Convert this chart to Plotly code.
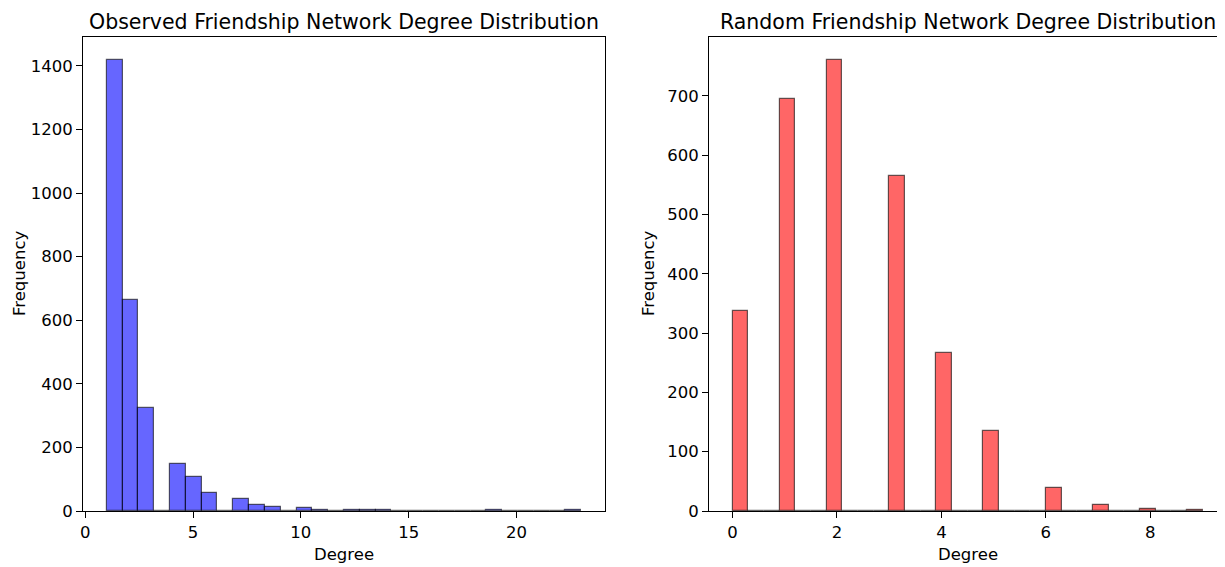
import numpy as np
import plotly.graph_objects as go

# Observed network: degree -> number of nodes
obs_degrees = [1, 2, 3, 4, 5, 6, 7, 8, 9, 10, 11, 12, 13, 14, 19, 23]
obs_counts = [1420, 663, 324, 147, 108, 57, 37, 18, 14, 9, 3, 2, 2, 2, 2, 2]

# Random network: degree -> number of nodes
rnd_degrees = [0, 1, 2, 3, 4, 5, 6, 7, 8, 9]
rnd_counts = [337, 695, 761, 564, 266, 135, 39, 10, 4, 1]

N_BINS = 30

obs_title = "Observed Friendship Network Degree Distribution"
rnd_title = "Random Friendship Network Degree Distribution"
x_label = "Degree"
y_label = "Frequency"

obs_xticks = [0, 5, 10, 15, 20]
obs_yticks = [0, 200, 400, 600, 800, 1000, 1200, 1400]
rnd_xticks = [0, 2, 4, 6, 8]
rnd_yticks = [0, 100, 200, 300, 400, 500, 600, 700]


def hist(degrees, counts):
    h, edges = np.histogram(degrees, bins=N_BINS, weights=counts)
    centers = (edges[:-1] + edges[1:]) / 2
    width = edges[1] - edges[0]
    return h, centers, width, edges


oh, oc, ow, oe = hist(obs_degrees, obs_counts)
rh, rc, rw, re_ = hist(rnd_degrees, rnd_counts)

FONT = "DejaVu Sans"
W, H = 1225, 567
OFF = 8  # page body margin

fig = go.Figure()
fig.add_trace(go.Bar(x=oc, y=oh, width=ow, xaxis="x", yaxis="y",
                     marker=dict(color="rgba(0,0,255,0.6)",
                                 line=dict(color="rgba(0,0,0,0.6)", width=1.2)),
                     showlegend=False))
fig.add_trace(go.Bar(x=rc, y=rh, width=rw, xaxis="x2", yaxis="y2",
                     marker=dict(color="rgba(255,0,0,0.6)",
                                 line=dict(color="rgba(0,0,0,0.6)", width=1.2)),
                     showlegend=False))

L0, L1 = 83 - OFF, 605 - OFF
R0, R1 = 709 - OFF, 1226 - OFF
T, B = 37 - OFF, 511 - OFF

left_dom = [L0 / W, L1 / W]
right_dom = [R0 / W, R1 / W]
y_dom = [1 - B / H, 1 - T / H]


def xr(edges):
    span = edges[-1] - edges[0]
    return [edges[0] - 0.05 * span, edges[-1] + 0.05 * span]


axis_common = dict(showline=True, linecolor="black", linewidth=1, mirror=True,
                   ticks="outside", ticklen=6, tickwidth=1, tickcolor="black",
                   showgrid=False, zeroline=False, automargin=False,
                   tickfont=dict(family=FONT, size=16.5, color="black"))

fig.update_layout(
    width=W, height=H,
    margin=dict(l=0, r=0, t=0, b=0, autoexpand=False),
    plot_bgcolor="white", paper_bgcolor="white",
    bargap=0,
    font=dict(family=FONT, color="black"),
    xaxis=dict(domain=left_dom, anchor="y", range=xr(oe), tickvals=obs_xticks, **axis_common),
    yaxis=dict(domain=y_dom, anchor="x", range=[0, 1.05 * max(oh)], tickvals=obs_yticks, **axis_common),
    xaxis2=dict(domain=right_dom, anchor="y2", range=xr(re_), tickvals=rnd_xticks, **axis_common),
    yaxis2=dict(domain=y_dom, anchor="x2", range=[0, 1.05 * max(rh)], tickvals=rnd_yticks, **axis_common),
)

ann = []
lc = (L0 + L1) / 2 / W
rcx = (R0 + R1) / 2 / W
title_y = 1 - 0.5 / H
xlab_y = 1 - (554 - OFF) / H
ymid = (y_dom[0] + y_dom[1]) / 2
ann.append(dict(text=obs_title, x=lc, y=title_y, xref="paper", yref="paper", showarrow=False,
                font=dict(family=FONT, size=20.5, color="black"), xanchor="center", yanchor="top",
                borderpad=0))
ann.append(dict(text=rnd_title, x=rcx, y=title_y, xref="paper", yref="paper", showarrow=False,
                font=dict(family=FONT, size=20.5, color="black"), xanchor="center", yanchor="top",
                borderpad=0))
ann.append(dict(text=x_label, x=lc, y=xlab_y, xref="paper", yref="paper", showarrow=False,
                font=dict(family=FONT, size=16.5, color="black"), xanchor="center", yanchor="middle"))
ann.append(dict(text=x_label, x=rcx, y=xlab_y, xref="paper", yref="paper", showarrow=False,
                font=dict(family=FONT, size=16.5, color="black"), xanchor="center", yanchor="middle"))
ann.append(dict(text=y_label, x=0.5 / W, y=ymid, textangle=-90, xref="paper", yref="paper",
                showarrow=False, font=dict(family=FONT, size=16.5, color="black"),
                xanchor="left", yanchor="middle", borderpad=0))
ann.append(dict(text=y_label, x=(648 - OFF) / W, y=ymid, textangle=-90, xref="paper", yref="paper",
                showarrow=False, font=dict(family=FONT, size=16.5, color="black"),
                xanchor="center", yanchor="middle"))
fig.update_layout(annotations=ann)

fig.write_html("out.html")
